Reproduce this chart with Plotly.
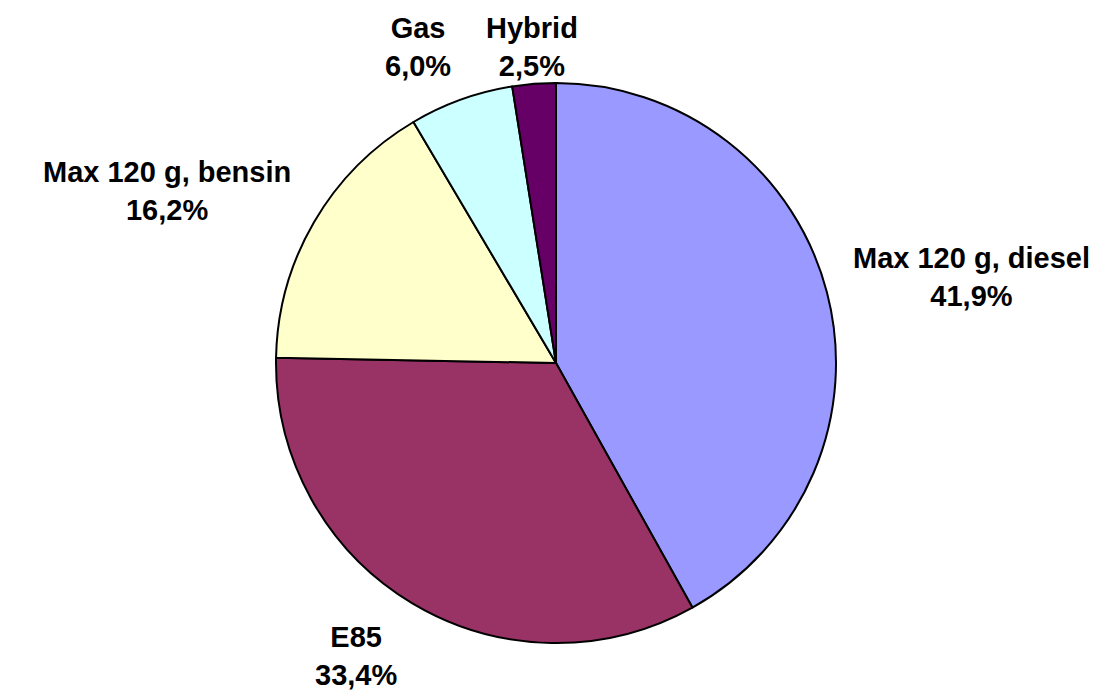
import math
import plotly.graph_objects as go

labels = ["Max 120 g, diesel", "E85", "Max 120 g, bensin", "Gas", "Hybrid"]
values = [41.9, 33.4, 16.2, 6.0, 2.5]
pct_text = ["41,9%", "33,4%", "16,2%", "6,0%", "2,5%"]
colors = ["#9999FF", "#993366", "#FFFFCC", "#CCFFFF", "#660066"]

# page body has an 8px margin, so the figure is drawn 8px in from the window corner
W, H = 1110, 683
cx, cy, r = 548, 355, 280
label_r = 305
half_h = 33
top_limit = 6
font_family = "Liberation Sans, Arial, sans-serif"

fig = go.Figure(go.Pie(
    labels=labels,
    values=values,
    textinfo="none",
    marker=dict(colors=colors, line=dict(color="black", width=2)),
    sort=False,
    direction="clockwise",
    rotation=0,
    showlegend=False,
    hoverinfo="label+percent",
    domain=dict(x=[(cx - r) / W, (cx + r) / W], y=[1 - (cy + r) / H, 1 - (cy - r) / H]),
))

total = sum(values)
cum = 0.0
annotations = []
for lab, v, t in zip(labels, values, pct_text):
    mid = (cum + v / 2) / total * 2 * math.pi
    cum += v
    s, c = math.sin(mid), math.cos(mid)
    px = cx + label_r * s
    py = cy - label_r * c
    if s > 0.25:
        xa = "left"
    elif s < -0.25:
        xa = "right"
    else:
        xa = "center"
    f = max(-1.0, min(1.0, 1.1 * c))
    yc = py - half_h * f
    yc = max(yc, top_limit + half_h)
    annotations.append(dict(
        x=px / W, y=1 - yc / H, xref="paper", yref="paper",
        text=f"<b>{lab}<br>{t}</b>", showarrow=False,
        xanchor=xa, yanchor="middle",
        align="center",
        font=dict(family=font_family, size=29, color="black"),
    ))

fig.update_layout(
    width=W, height=H,
    margin=dict(l=0, r=0, t=0, b=0),
    paper_bgcolor="white",
    plot_bgcolor="white",
    font=dict(family=font_family, color="black"),
    annotations=annotations,
)

fig.write_html("out.html")
